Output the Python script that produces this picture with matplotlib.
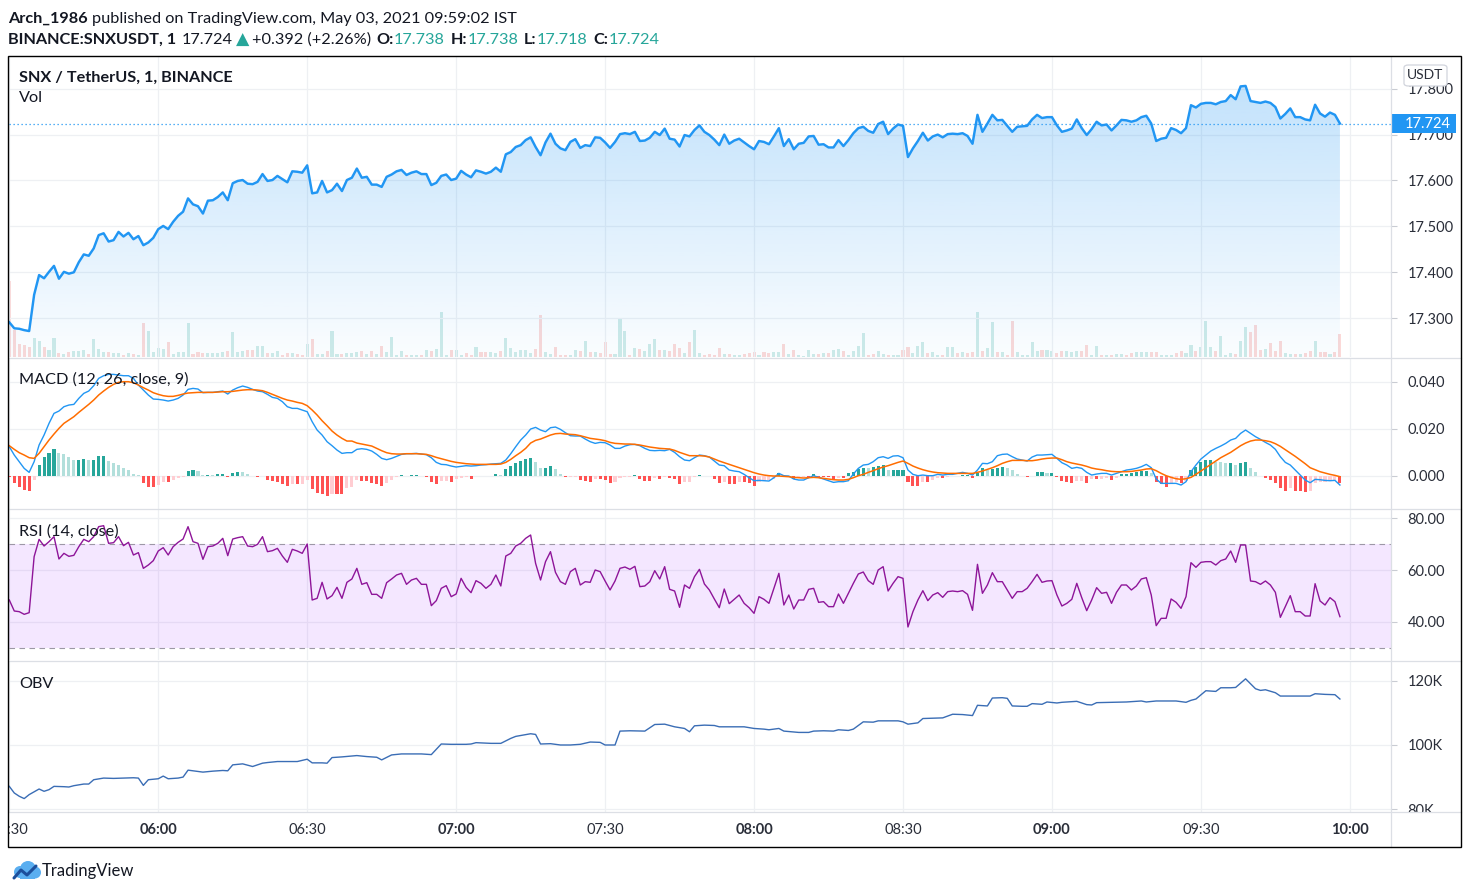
import numpy as np
import matplotlib
matplotlib.use("Agg")
import matplotlib.pyplot as plt
from matplotlib.patches import Rectangle, FancyBboxPatch, Circle
from matplotlib.lines import Line2D
from matplotlib.colors import to_rgb
import matplotlib.transforms as mtransforms

plt.rcParams['font.family'] = ['Lato', 'DejaVu Sans']

# ---------------------------------------------------------------- DATA
# 1-minute bars of SNX/USDT (Binance), starting 05:30, last bar 09:58
close = [
    17.291, 17.278, 17.277, 17.274, 17.272, 17.351, 17.394, 17.387, 17.401, 17.414,
    17.386, 17.401, 17.397, 17.400, 17.422, 17.439, 17.436, 17.452, 17.481, 17.485,
    17.467, 17.470, 17.488, 17.478, 17.486, 17.472, 17.479, 17.459, 17.465, 17.475,
    17.494, 17.501, 17.494, 17.510, 17.523, 17.532, 17.561, 17.548, 17.544, 17.528,
    17.556, 17.557, 17.564, 17.574, 17.557, 17.594, 17.599, 17.601, 17.593, 17.592,
    17.597, 17.614, 17.599, 17.601, 17.610, 17.603, 17.596, 17.620, 17.619, 17.617,
    17.633, 17.572, 17.574, 17.599, 17.574, 17.579, 17.593, 17.577, 17.601,
    17.606, 17.626, 17.606, 17.608, 17.591, 17.591, 17.586, 17.608, 17.613, 17.620,
    17.623, 17.612, 17.617, 17.620, 17.614, 17.614, 17.590, 17.595, 17.610, 17.613,
    17.601, 17.604, 17.621, 17.613, 17.607, 17.622, 17.619, 17.615, 17.619, 17.628,
    17.619, 17.657, 17.662, 17.673, 17.677, 17.688, 17.694, 17.673, 17.655, 17.683,
    17.702, 17.680, 17.670, 17.666, 17.684, 17.690, 17.671, 17.677, 17.675, 17.694,
    17.693, 17.683, 17.671, 17.684, 17.701, 17.703, 17.701, 17.706, 17.686, 17.687,
    17.693, 17.706, 17.699, 17.713, 17.691, 17.689, 17.674, 17.699, 17.696,
    17.710, 17.720, 17.706, 17.699, 17.689, 17.677, 17.700, 17.680, 17.687, 17.691,
    17.683, 17.675, 17.668, 17.686, 17.684, 17.679, 17.696, 17.714, 17.675, 17.690,
    17.668, 17.680, 17.682, 17.696, 17.697, 17.678, 17.679, 17.672, 17.672, 17.688,
    17.675, 17.688, 17.703, 17.714, 17.717, 17.708, 17.704, 17.723, 17.728, 17.701,
    17.713, 17.722, 17.719, 17.651, 17.670, 17.686, 17.704, 17.687, 17.696, 17.700,
    17.694, 17.701, 17.702, 17.701, 17.703, 17.697, 17.680, 17.743, 17.706, 17.724,
    17.743, 17.731, 17.732, 17.719, 17.706, 17.717,
    17.718, 17.719, 17.733, 17.743, 17.736, 17.738, 17.738, 17.720, 17.706, 17.709,
    17.713, 17.733, 17.714, 17.699, 17.712, 17.728, 17.720, 17.722, 17.709, 17.720,
    17.732, 17.731, 17.728, 17.731, 17.738, 17.741, 17.724, 17.686, 17.691, 17.693,
    17.714, 17.710, 17.703, 17.714, 17.764, 17.759, 17.767, 17.769, 17.769, 17.766,
    17.771, 17.773, 17.786, 17.777, 17.805, 17.806, 17.773, 17.771, 17.769, 17.772,
    17.769, 17.760, 17.735, 17.745, 17.757, 17.738, 17.738, 17.733, 17.731, 17.765,
    17.746, 17.739, 17.748, 17.743, 17.724,
]

volume = [
    5680, 2030, 980, 920, 770, 1430, 1220, 730, 550, 1430,
    300, 250, 380, 430, 470, 550, 250, 1350, 620, 400,
    400, 320, 280, 170, 280, 230, 170, 2550, 1970, 380,
    680, 620, 1130, 230, 380, 350, 2550, 230, 380, 300,
    300, 300, 280, 380, 430, 1880, 350, 430, 500, 550,
    800, 830, 300, 320, 470, 170, 300, 300, 230, 170,
    980, 1350, 250, 230, 470, 1930, 250, 250, 280,
    300, 350, 430, 230, 470, 230, 850, 350, 1520, 170,
    470, 170, 170, 170, 170, 550, 430, 620, 3350, 170,
    500, 550, 170, 300, 170, 770, 350, 400, 400, 280,
    430, 1450, 680, 400, 550, 550, 320, 620, 3170, 400,
    250, 770, 170, 170, 170, 550, 470, 1220, 400, 400,
    280, 1150, 250, 250, 2930, 1930, 170, 700, 620, 470,
    1000, 1370, 550, 550, 470, 950, 700, 300, 1150,
    2030, 300, 170, 250, 170, 680, 250, 230, 170, 170,
    250, 300, 380, 170, 400, 300, 350, 400, 980, 250,
    550, 170, 100, 530, 250, 250, 320, 320, 550, 600,
    470, 170, 470, 830, 1800, 170, 250, 470, 250, 170,
    170, 170, 550, 750, 320, 850, 1150, 300, 400, 170,
    170, 750, 750, 300, 400, 300, 400, 3400, 470, 680,
    2650, 400, 400, 170, 2720, 400, 170, 170,
    1130, 430, 550, 550, 430, 300, 430, 470, 380, 430,
    470, 920, 170, 850, 170, 170, 170, 230, 230, 170,
    280, 350, 350, 380, 350, 350, 170, 170, 170, 280,
    470, 280, 920, 470, 730, 2680, 770, 470, 1550, 170,
    300, 250, 1180, 2270, 1880, 2420, 500, 580, 1030, 470,
    1180, 280, 230, 250, 250, 300, 430, 1180, 350, 350,
    250, 350, 1730,
]

macd_line = [
    0.01234, 0.00879, 0.00596, 0.00312, 0.00142, 0.00596, 0.01305, 0.01730, 0.02227, 0.02652,
    0.02752, 0.02936, 0.03007, 0.03035, 0.03291, 0.03504, 0.03603, 0.03830, 0.04142, 0.04255,
    0.04312, 0.04312, 0.04284, 0.04255, 0.04255, 0.04142, 0.03858, 0.03645, 0.03433, 0.03262,
    0.03248, 0.03220, 0.03177, 0.03220, 0.03291, 0.03433, 0.03674, 0.03716, 0.03688, 0.03532,
    0.03546, 0.03546, 0.03574, 0.03603, 0.03475, 0.03645, 0.03745, 0.03816, 0.03759, 0.03674,
    0.03603, 0.03574, 0.03461, 0.03333, 0.03291, 0.03149, 0.02936, 0.02865, 0.02865, 0.02794,
    0.02723, 0.02298, 0.01943, 0.01730, 0.01447, 0.01277, 0.01092, 0.00950, 0.00979,
    0.00979, 0.01121, 0.01149, 0.01121, 0.01050, 0.00908, 0.00738, 0.00681, 0.00738, 0.00823,
    0.00908, 0.00936, 0.00936, 0.00950, 0.00922, 0.00894, 0.00766, 0.00567, 0.00482, 0.00468,
    0.00411, 0.00369, 0.00397, 0.00426, 0.00411, 0.00426, 0.00454, 0.00468, 0.00496, 0.00511,
    0.00525, 0.00667, 0.00936, 0.01234, 0.01518, 0.01730, 0.01986, 0.02057, 0.01943, 0.01872,
    0.02043, 0.02071, 0.01972, 0.01830, 0.01702, 0.01688, 0.01688, 0.01560, 0.01447, 0.01376,
    0.01418, 0.01404, 0.01305, 0.01163, 0.01163, 0.01262, 0.01319, 0.01333, 0.01277, 0.01163,
    0.01078, 0.01064, 0.01078, 0.01064, 0.01121, 0.00993, 0.00809, 0.00667, 0.00638,
    0.00766, 0.00879, 0.00851, 0.00794, 0.00624, 0.00454, 0.00426, 0.00241, 0.00199, 0.00170,
    0.00057, -0.00085, -0.00213, -0.00199, -0.00213, -0.00227, -0.00085, 0.00099, 0.00000, -0.00014,
    -0.00142, -0.00184, -0.00184, -0.00085, 0.00000, -0.00071, -0.00142, -0.00213, -0.00284, -0.00255,
    -0.00255, -0.00213, 0.00071, 0.00312, 0.00454, 0.00482, 0.00596, 0.00766, 0.00809, 0.00738,
    0.00837, 0.00851, 0.00766, 0.00241, 0.00057, 0.00000, 0.00028, 0.00000, 0.00000, 0.00057,
    0.00028, 0.00057, 0.00057, 0.00099, 0.00142, 0.00099, 0.00028, 0.00241, 0.00525, 0.00511,
    0.00596, 0.00851, 0.00908, 0.00922, 0.00809, 0.00709, 0.00667, 0.00624,
    0.00794, 0.00879, 0.00879, 0.00894, 0.00908, 0.00738, 0.00553, 0.00454, 0.00312, 0.00355,
    0.00312, 0.00142, 0.00028, 0.00071, 0.00099, 0.00099, 0.00028, 0.00099, 0.00170, 0.00241,
    0.00270, 0.00312, 0.00383, 0.00482, 0.00340, -0.00142, -0.00326, -0.00326, -0.00326, -0.00326,
    -0.00397, -0.00255, 0.00170, 0.00454, 0.00709, 0.00879, 0.01050, 0.01163, 0.01262, 0.01376,
    0.01518, 0.01589, 0.01801, 0.01943, 0.01801, 0.01660, 0.01546, 0.01418, 0.01305, 0.01121,
    0.00809, 0.00567, 0.00454, 0.00241, 0.00028, -0.00184, -0.00298, -0.00156, -0.00170, -0.00199,
    -0.00213, -0.00199, -0.00397,
]

macd_signal = [
    0.01277, 0.01121, 0.00979, 0.00879, 0.00766, 0.00738, 0.00950, 0.01234, 0.01518, 0.01773,
    0.02014, 0.02227, 0.02369, 0.02511, 0.02695, 0.02865, 0.03035, 0.03220, 0.03433, 0.03603,
    0.03759, 0.03887, 0.03972, 0.04000, 0.04000, 0.03957, 0.03858, 0.03745, 0.03645, 0.03532,
    0.03461, 0.03404, 0.03376, 0.03376, 0.03418, 0.03475, 0.03518, 0.03532, 0.03546, 0.03546,
    0.03546, 0.03546, 0.03560, 0.03574, 0.03574, 0.03589, 0.03617, 0.03645, 0.03660, 0.03660,
    0.03645, 0.03617, 0.03546, 0.03461, 0.03376, 0.03291, 0.03220, 0.03177, 0.03121, 0.03078,
    0.02979, 0.02794, 0.02582, 0.02340, 0.02128, 0.01901, 0.01730, 0.01589, 0.01475,
    0.01475, 0.01390, 0.01348, 0.01305, 0.01262, 0.01163, 0.01064, 0.00979, 0.00936, 0.00922,
    0.00922, 0.00936, 0.00936, 0.00936, 0.00922, 0.00908, 0.00851, 0.00780, 0.00723, 0.00667,
    0.00610, 0.00567, 0.00539, 0.00511, 0.00496, 0.00482, 0.00482, 0.00482, 0.00482, 0.00482,
    0.00496, 0.00567, 0.00695, 0.00851, 0.00993, 0.01163, 0.01390, 0.01504, 0.01560, 0.01645,
    0.01730, 0.01787, 0.01801, 0.01773, 0.01759, 0.01745, 0.01702, 0.01645, 0.01589, 0.01560,
    0.01532, 0.01489, 0.01418, 0.01376, 0.01362, 0.01348, 0.01348, 0.01333, 0.01305, 0.01262,
    0.01220, 0.01191, 0.01163, 0.01149, 0.01135, 0.01078, 0.00993, 0.00922, 0.00851,
    0.00851, 0.00851, 0.00837, 0.00794, 0.00709, 0.00624, 0.00553, 0.00482, 0.00411, 0.00340,
    0.00270, 0.00199, 0.00128, 0.00071, 0.00028, 0.00000, -0.00014, -0.00014, -0.00028, -0.00043,
    -0.00071, -0.00085, -0.00099, -0.00085, -0.00071, -0.00085, -0.00113, -0.00142, -0.00170, -0.00184,
    -0.00184, -0.00156, -0.00085, 0.00000, 0.00057, 0.00142, 0.00213, 0.00298, 0.00369, 0.00426,
    0.00496, 0.00567, 0.00624, 0.00525, 0.00411, 0.00326, 0.00255, 0.00199, 0.00156, 0.00128,
    0.00113, 0.00099, 0.00099, 0.00099, 0.00099, 0.00099, 0.00099, 0.00142, 0.00199, 0.00270,
    0.00340, 0.00426, 0.00525, 0.00596, 0.00652, 0.00652, 0.00652, 0.00638,
    0.00638, 0.00667, 0.00709, 0.00738, 0.00752, 0.00752, 0.00681, 0.00596, 0.00539, 0.00496,
    0.00454, 0.00397, 0.00326, 0.00284, 0.00255, 0.00213, 0.00184, 0.00170, 0.00170, 0.00170,
    0.00184, 0.00213, 0.00241, 0.00284, 0.00298, 0.00213, 0.00099, 0.00000, -0.00071, -0.00128,
    -0.00156, -0.00128, -0.00071, 0.00057, 0.00199, 0.00340, 0.00482, 0.00624, 0.00766, 0.00879,
    0.00993, 0.01135, 0.01277, 0.01390, 0.01475, 0.01518, 0.01518, 0.01489, 0.01447, 0.01362,
    0.01248, 0.01106, 0.00965, 0.00823, 0.00667, 0.00511, 0.00340, 0.00255, 0.00170, 0.00113,
    0.00057, 0.00014, -0.00043,
]

macd_hist = [
    -0.00043, -0.00326, -0.00468, -0.00610, -0.00652, -0.00184, 0.00454, 0.00809, 0.00979, 0.01135,
    0.00979, 0.00922, 0.00794, 0.00667, 0.00667, 0.00709, 0.00667, 0.00681, 0.00837, 0.00837,
    0.00624, 0.00525, 0.00454, 0.00312, 0.00241, 0.00057, 0.00020, -0.00326, -0.00468, -0.00468,
    -0.00397, -0.00255, -0.00284, -0.00184, -0.00113, -0.00057, 0.00199, 0.00241, 0.00199, 0.00028,
    0.00043, 0.00028, 0.00057, 0.00071, -0.00057, 0.00099, 0.00156, 0.00142, 0.00071, -0.00028,
    -0.00057, -0.00014, -0.00184, -0.00227, -0.00284, -0.00369, -0.00426, -0.00355, -0.00355, -0.00340,
    -0.00184, -0.00582, -0.00752, -0.00794, -0.00851, -0.00766, -0.00794, -0.00794, -0.00539,
    -0.00468, -0.00184, -0.00227, -0.00227, -0.00298, -0.00355, -0.00426, -0.00298, -0.00184, -0.00071,
    0.00028, -0.00028, 0.00028, 0.00028, -0.00028, -0.00071, -0.00255, -0.00340, -0.00241, -0.00213,
    -0.00270, -0.00128, -0.00085, -0.00057, -0.00128, -0.00028, -0.00028, -0.00028, -0.00010, 0.00085,
    0.00028, 0.00284, 0.00411, 0.00525, 0.00624, 0.00695, 0.00752, 0.00596, 0.00340, 0.00340,
    0.00426, 0.00284, 0.00071, -0.00071, -0.00057, -0.00043, -0.00170, -0.00213, -0.00255, -0.00142,
    -0.00142, -0.00170, -0.00298, -0.00255, -0.00113, -0.00071, -0.00057, 0.00043, -0.00128, -0.00213,
    -0.00213, -0.00085, -0.00128, -0.00057, -0.00113, -0.00128, -0.00369, -0.00284, -0.00255,
    -0.00057, 0.00028, -0.00028, -0.00028, -0.00142, -0.00326, -0.00255, -0.00355, -0.00355, -0.00255,
    -0.00270, -0.00312, -0.00426, -0.00284, -0.00227, -0.00199, -0.00142, 0.00113, 0.00028, -0.00057,
    -0.00142, -0.00085, -0.00057, -0.00057, 0.00071, -0.00057, -0.00057, -0.00071, -0.00128, -0.00113,
    -0.00113, 0.00099, 0.00170, 0.00270, 0.00340, 0.00312, 0.00369, 0.00426, 0.00454, 0.00241,
    0.00241, 0.00241, 0.00241, -0.00255, -0.00426, -0.00426, -0.00284, -0.00284, -0.00199, -0.00113,
    -0.00113, -0.00043, -0.00028, 0.00000, 0.00028, 0.00028, -0.00113, 0.00099, 0.00312, 0.00241,
    0.00270, 0.00340, 0.00383, 0.00340, 0.00227, 0.00085, 0.00000, -0.00043,
    0.00000, 0.00142, 0.00142, 0.00099, 0.00099, -0.00043, -0.00213, -0.00255, -0.00326, -0.00227,
    -0.00213, -0.00326, -0.00142, -0.00142, -0.00128, -0.00113, -0.00170, -0.00085, 0.00057, 0.00071,
    0.00099, 0.00142, 0.00199, 0.00199, 0.00099, -0.00255, -0.00369, -0.00468, -0.00326, -0.00284,
    -0.00298, -0.00227, 0.00241, 0.00383, 0.00596, 0.00652, 0.00652, 0.00596, 0.00567, 0.00525,
    0.00525, 0.00454, 0.00525, 0.00567, 0.00312, 0.00142, -0.00028, -0.00113, -0.00170, -0.00298,
    -0.00539, -0.00638, -0.00539, -0.00638, -0.00652, -0.00681, -0.00652, -0.00326, -0.00284, -0.00255,
    -0.00227, -0.00184, -0.00326,
]

rsi = [
    48.46, 44.23, 43.97, 42.95, 43.59, 65.13, 71.79, 69.23, 70.90, 72.82,
    64.23, 66.41, 65.26, 65.64, 68.97, 71.79, 70.90, 72.82, 76.67, 77.05,
    70.26, 70.51, 72.82, 69.36, 70.64, 65.77, 66.67, 60.64, 61.92, 63.59,
    67.31, 68.59, 65.77, 68.97, 70.64, 71.92, 76.67, 70.90, 70.26, 64.10,
    68.97, 69.23, 70.26, 72.18, 65.51, 71.92, 72.44, 72.82, 69.23, 68.97,
    69.87, 72.82, 67.05, 67.44, 68.33, 65.38, 62.95, 67.95, 67.31, 66.41,
    70.00, 48.46, 49.10, 55.26, 48.85, 50.13, 53.33, 49.10, 55.26,
    56.54, 60.64, 54.49, 55.13, 50.64, 50.64, 49.10, 55.13, 56.54, 58.08,
    58.72, 54.49, 56.15, 56.79, 54.49, 54.49, 46.28, 48.21, 52.95, 53.97,
    49.74, 50.77, 56.79, 53.33, 51.28, 55.90, 54.87, 52.95, 54.49, 58.08,
    53.85, 65.38, 66.41, 69.23, 70.26, 72.18, 73.46, 62.56, 56.15, 63.21,
    67.05, 59.10, 55.51, 54.49, 59.36, 60.64, 54.23, 55.51, 55.26, 60.00,
    59.36, 55.77, 52.31, 55.77, 60.64, 61.15, 60.26, 61.41, 53.59, 53.85,
    55.51, 59.74, 56.54, 61.28, 52.56, 51.92, 45.64, 54.23, 52.95,
    57.44, 60.26, 54.62, 52.31, 48.85, 45.51, 52.69, 47.05, 48.72, 50.38,
    47.18, 45.51, 43.33, 49.74, 48.72, 47.18, 52.95, 58.72, 46.54, 50.38,
    45.00, 48.46, 48.46, 52.56, 52.95, 47.56, 47.82, 45.90, 45.90, 50.77,
    47.18, 51.03, 54.87, 58.46, 59.23, 55.90, 54.49, 60.00, 61.28, 51.92,
    54.87, 57.44, 56.79, 38.08, 43.97, 48.46, 52.05, 48.21, 50.38, 51.28,
    49.49, 51.67, 51.92, 51.67, 52.05, 50.64, 44.49, 62.18, 51.03, 54.23,
    58.97, 55.51, 55.51, 52.31, 49.10, 51.67, 51.67, 52.95,
    55.51, 58.33, 55.26, 55.77, 55.90, 50.38, 46.15, 47.18, 48.72, 54.87,
    49.36, 44.36, 48.46, 53.21, 51.03, 51.41, 47.18, 51.41, 54.23, 54.23,
    52.31, 53.85, 56.54, 57.05, 50.38, 38.59, 41.41, 41.41, 48.85, 47.56,
    45.26, 49.74, 62.82, 61.03, 62.95, 63.21, 63.21, 61.92, 63.59, 64.23,
    67.31, 62.95, 69.62, 69.62, 55.77, 55.51, 54.49, 55.77, 54.23, 51.41,
    41.79, 45.90, 50.13, 43.97, 43.97, 42.31, 42.31, 54.74, 48.08, 46.54,
    49.36, 47.82, 42.05,
]

# On-balance volume, read at the minutes where the curve changes direction
obv_minute = [
    0, 1, 2, 3, 4, 6, 7, 8, 9, 11, 12, 13, 15, 16, 17, 19, 21, 23, 25, 26,
    27, 28, 30, 31, 32, 34, 35, 36, 38, 39, 41, 43, 44, 45, 47, 49, 51, 52, 54, 56,
    58, 60, 61, 63, 64, 65, 67, 70, 72, 74, 75, 77, 79, 83, 85, 87, 89, 92, 93, 94,
    97, 99, 101, 102, 105, 106, 107, 109, 111, 113, 115, 117, 119, 120, 122, 123, 125, 128, 130, 132,
    134, 136, 137, 138, 140, 142, 143, 145, 148, 150, 152, 153, 155, 156, 159, 161, 162, 164, 166, 167,
    169, 170, 172, 174, 175, 177, 179, 180, 181, 183, 184, 186, 188, 190, 192, 194, 195, 197, 198, 200,
    201, 202, 204, 205, 206, 208, 209, 211, 212, 215, 217, 218, 219, 222, 225, 228, 229, 231, 235, 237,
    238, 239, 241, 243, 244, 246, 247, 249, 251, 252, 253, 255, 256, 258, 260, 262, 263, 265, 267, 268,
]
obv_value = [
    87170, 85120, 84100, 83380, 84610, 86350, 85640, 86150, 87170, 87070,
    86970, 87380, 87890, 87890, 89230, 89740, 89640, 89740, 89840, 89740,
    87480, 89230, 89530, 90360, 89530, 89740, 90050, 92200, 91790, 91590,
    91890, 92100, 92000, 93840, 94150, 93330, 94360, 94560, 94870, 94870,
    94870, 95590, 94460, 94460, 94360, 96100, 96310, 96720, 96410, 96200,
    95380, 96920, 97230, 97230, 97020, 100310, 100210, 100210, 100310, 100720,
    100510, 100510, 102050, 102670, 103490, 103280, 100310, 100410, 100000, 100000,
    100210, 100920, 100820, 100000, 100000, 104310, 104410, 104310, 106360, 106460,
    105640, 105130, 104100, 105950, 106160, 106050, 105640, 105640, 105640, 105130,
    104920, 104720, 105130, 104310, 103900, 103900, 104310, 104410, 104310, 104720,
    104510, 104920, 107180, 107080, 107490, 107490, 107490, 107180, 106460, 106870,
    108210, 108310, 108410, 109540, 109440, 109130, 112310, 112110, 114570, 114670,
    114470, 112110, 112000, 112000, 112830, 112620, 113340, 113030, 113240, 113540,
    112520, 112410, 113130, 113240, 113340, 113650, 113340, 113650, 113650, 113240,
    113850, 114260, 116830, 116620, 117750, 117750, 117850, 120520, 117440, 116930,
    117130, 116210, 115180, 115180, 115180, 115180, 115900, 115700, 115600, 114260,
]

price_ticks = [17.3, 17.4, 17.5, 17.6, 17.7, 17.8]
macd_ticks = [0.0, 0.02, 0.04]
rsi_ticks = [40, 60, 80]
rsi_band = [30, 70]
obv_ticks = [80000, 100000, 120000]
time_tick_minutes = [0, 30, 60, 90, 120, 150, 180, 210, 240, 270]
time_tick_labels = ['05:30', '06:00', '06:30', '07:00', '07:30',
                    '08:00', '08:30', '09:00', '09:30', '10:00']

last_price = 17.724
quote_open, quote_high, quote_low, quote_close = '17.738', '17.738', '17.718', '17.724'
quote_change = '+0.392 (+2.26%)'
author = 'Arch_1986'
published = 'published on TradingView.com, May 03, 2021 09:59:02 IST'
symbol = 'BINANCE:SNXUSDT, 1'
pane_title = 'SNX / TetherUS, 1, BINANCE'

# ---------------------------------------------------------------- STYLE
W, H = 1470, 894
TXT = '#131722'
AXTXT = '#2a2e39'
GRID = '#eef0f3'
SEP = '#dcdfe5'
BLUE = '#2196F3'
ORANGE = '#FF6D00'
TEAL = '#26a69a'
PURPLE = '#8E1599'
OBVC = '#3A6DB5'
X0PX, PXPM = 9.3, 4.965        # pixel of the first bar, pixels per minute
PL, PR, RIGHT = 9, 1391, 1461  # pane left, pane right (price scale), frame right

fig = plt.figure(figsize=(W / 100, H / 100), dpi=100)
fig.patch.set_facecolor('white')


def add_ax(x0, y0, x1, y1, **kw):
    return fig.add_axes([x0 / W, 1 - y1 / H, (x1 - x0) / W, (y1 - y0) / H], **kw)


def xl(px):
    return (px - X0PX) / PXPM


def style_pane(ax, ticks, fmt):
    ax.set_xlim(xl(PL), xl(PR))
    ax.set_xticks([])
    for s in ax.spines.values():
        s.set_visible(False)
    ax.yaxis.tick_right()
    ax.set_yticks(ticks)
    ax.set_yticklabels([fmt(t) for t in ticks])
    ax.tick_params(axis='y', length=4, width=0.8, color='#c9ccd3', pad=8,
                   labelsize=10.5, labelcolor=AXTXT)
    for m in time_tick_minutes:
        ax.axvline(m, color=GRID, lw=0.9, zorder=0)
    for t in ticks:
        ax.axhline(t, color=GRID, lw=0.9, zorder=0)


# ---------------- price pane
ax_p = add_ax(PL, 57, PR, 357)
ax_v = ax_p.twinx()
ax_v.set_zorder(ax_p.get_zorder() - 1)
ax_p.patch.set_visible(False)
x = np.arange(len(close))
cl = np.array(close)
P_LO, P_HI = 17.2155, 17.869

vol = np.array(volume)
xv = np.arange(len(vol))
up = np.r_[False, np.diff(cl[:len(vol)]) >= 0]
vcol = np.where(up, TEAL, '#ef5350')
ax_v.bar(xv, vol, width=0.62, color=vcol, alpha=0.22, linewidth=0)
ax_v.set_ylim(0, 22500)
ax_v.set_xlim(xl(PL), xl(PR))
ax_v.axis('off')

fill = ax_p.fill_between(x, cl, P_LO, facecolor='none', edgecolor='none')
grad = np.ones((256, 1, 4))
grad[..., :3] = to_rgb(BLUE)
grad[:, 0, 3] = np.linspace(0.02, 0.30, 256)
im = ax_p.imshow(grad, extent=[x[0], x[-1], P_LO, P_HI], origin='lower',
                 aspect='auto', zorder=1, interpolation='bilinear')
im.set_clip_path(fill.get_paths()[0], transform=ax_p.transData)
ax_p.plot(x, cl, color=BLUE, lw=1.75, zorder=3, solid_joinstyle='round')
ax_p.axhline(last_price, color=BLUE, lw=0.9, ls=(0, (1, 2.2)), zorder=2)
style_pane(ax_p, price_ticks, lambda v: f'{v:.3f}')
ax_p.set_ylim(P_LO, P_HI)
ax_p.set_aspect('auto')

blend = mtransforms.blended_transform_factory(fig.transFigure, ax_p.transData)
tag_h = 19 / 459
ax_p.add_patch(Rectangle((PR / W, last_price - tag_h / 2), 65 / W, tag_h,
                         transform=blend, facecolor=BLUE, edgecolor='none',
                         clip_on=False, zorder=6))
ax_p.text(1405 / W, last_price, f'{last_price:.3f}', transform=blend, color='white',
          fontsize=10.5, va='center', ha='left', zorder=7, clip_on=False)
fig.add_artist(FancyBboxPatch((1404 / W, 1 - 86 / H), 43 / W, 21 / H,
                              boxstyle='round,pad=0,rounding_size=0.003',
                              transform=fig.transFigure, facecolor='white',
                              edgecolor='#d1d4dc', lw=0.9, zorder=8))
fig.text(1425.5 / W, 1 - 75 / H, 'USDT', color=AXTXT, fontsize=10,
         ha='center', va='center', zorder=9)

# ---------------- MACD pane
ax_m = add_ax(PL, 358, PR, 509)
h = np.array(macd_hist)
prev = np.r_[h[0], h[:-1]]
hcol = np.where(h >= 0, np.where(h >= prev, '#26A69A', '#B2DFDB'),
                np.where(h <= prev, '#FF5252', '#FFCDD2'))
ax_m.bar(np.arange(len(h)), h, width=0.62, color=hcol, linewidth=0, zorder=2)
ax_m.plot(np.arange(len(macd_line)), macd_line, color=BLUE, lw=1.0, zorder=3)
ax_m.plot(np.arange(len(macd_signal)), macd_signal, color=ORANGE, lw=1.1, zorder=3)
style_pane(ax_m, macd_ticks, lambda v: f'{v:.3f}')
ax_m.set_ylim(-0.01417, 0.05009)

# ---------------- RSI pane
ax_r = add_ax(PL, 510, PR, 660)
ax_r.axhspan(rsi_band[0], rsi_band[1], color='#9915FF', alpha=0.1, lw=0, zorder=0.5)
for b in rsi_band:
    ax_r.axhline(b, color='#9d98a6', lw=0.8, ls=(0, (5, 4)), zorder=1)
ax_r.plot(np.arange(len(rsi)), rsi, color=PURPLE, lw=1.0, zorder=3)
style_pane(ax_r, rsi_ticks, lambda v: f'{v:.2f}')
ax_r.set_ylim(25.38, 83.08)

# ---------------- OBV pane
ax_o = add_ax(PL, 661, PR, 812)
ax_o.plot(obv_minute, obv_value, color=OBVC, lw=1.0, zorder=3)
style_pane(ax_o, obv_ticks, lambda v: f'{int(v / 1000)}K')
ax_o.set_ylim(79220, 126050)

# ---------------- time axis row (labels clipped at the pane edge, as in TradingView)
ax_t = add_ax(PL, 812, RIGHT, 847)
ax_t.set_zorder(5)
ax_t.set_xlim(xl(PL), xl(RIGHT))
ax_t.set_ylim(0, 1)
ax_t.set_xticks([])
ax_t.set_yticks([])
for s in ax_t.spines.values():
    s.set_visible(False)
for m, lab in zip(time_tick_minutes, time_tick_labels):
    ax_t.text(m, 0.5, lab, ha='center', va='center', fontsize=10.5, color=AXTXT,
              fontweight='bold' if lab.endswith(':00') else 'normal', clip_on=True)

# ---------------- separators and frame
for yy in (357.5, 509.5, 660.5, 812):
    fig.add_artist(Line2D([PL / W, RIGHT / W], [1 - yy / H, 1 - yy / H], color=SEP,
                          lw=0.9, transform=fig.transFigure, zorder=10))
fig.add_artist(Line2D([PR / W, PR / W], [1 - 57 / H, 1 - 847 / H], color=SEP,
                      lw=0.9, transform=fig.transFigure, zorder=10))
fig.add_artist(Rectangle((8 / W, 1 - 847 / H), (RIGHT - 8) / W, (847 - 56) / H,
                         transform=fig.transFigure, facecolor='none',
                         edgecolor='black', lw=1.0, zorder=11))

# ---------------- texts
renderer = fig.canvas.get_renderer()


def runs(x_px, y_px, items, size):
    xx = x_px
    for s, color, weight, gap, fs in items:
        t = fig.text(xx / W, 1 - y_px / H, s, color=color, fontweight=weight,
                     fontsize=fs or size, ha='left', va='center', zorder=12)
        bb = t.get_window_extent(renderer=renderer)
        xx = bb.x1 + gap


runs(8, 18.5, [(author, TXT, 'bold', 4, None), (published, TXT, 'normal', 0, None)], 11.7)
runs(8, 39.5, [(symbol, TXT, 'bold', 6, None), (f'{last_price:.3f}', TXT, 'normal', 3, None),
               ('\u25B2', TEAL, 'normal', 3, 12.5), (quote_change, TXT, 'normal', 5, None),
               ('O:', TXT, 'bold', 0, None), (quote_open, TEAL, 'normal', 6, None),
               ('H:', TXT, 'bold', 0, None), (quote_high, TEAL, 'normal', 6, None),
               ('L:', TXT, 'bold', 0, None), (quote_low, TEAL, 'normal', 6, None),
               ('C:', TXT, 'bold', 0, None), (quote_close, TEAL, 'normal', 0, None)], 11.7)

fig.text(19 / W, 1 - 77.5 / H, pane_title, fontsize=11.7, fontweight='bold', color=TXT,
         va='center', zorder=12)
fig.text(19 / W, 1 - 98.5 / H, 'Vol', fontsize=11.7, color=TXT, va='center', zorder=12)
fig.text(19 / W, 1 - 379.5 / H, 'MACD (12, 26, close, 9)', fontsize=11.7, color=TXT,
         va='center', zorder=12)
fig.text(19 / W, 1 - 531.5 / H, 'RSI (14, close)', fontsize=11.7, color=TXT,
         va='center', zorder=12)
fig.text(19 / W, 1 - 683.5 / H, 'OBV', fontsize=11.7, color=TXT, va='center', zorder=12)

# TradingView logo + wordmark
ax_l = add_ax(12, 859, 42, 881)
ax_l.set_xlim(0, 30)
ax_l.set_ylim(0, 22)
ax_l.axis('off')
for cx, cy, r in [(8, 9, 6), (16, 12, 8), (23, 8.5, 6)]:
    ax_l.add_patch(Circle((cx, cy), r, color='#5aaef0', lw=0))
ax_l.add_patch(Rectangle((8, 2.5), 15, 7, color='#5aaef0', lw=0))
ax_l.plot([2, 9, 15, 24], [3, 11, 6, 15], color='#1c4f9c', lw=2.2,
          solid_capstyle='round', solid_joinstyle='round')
fig.text(42 / W, 1 - 871 / H, 'TradingView', fontsize=12, color=TXT, va='center')

fig.savefig('out.png', dpi=100, facecolor='white')
